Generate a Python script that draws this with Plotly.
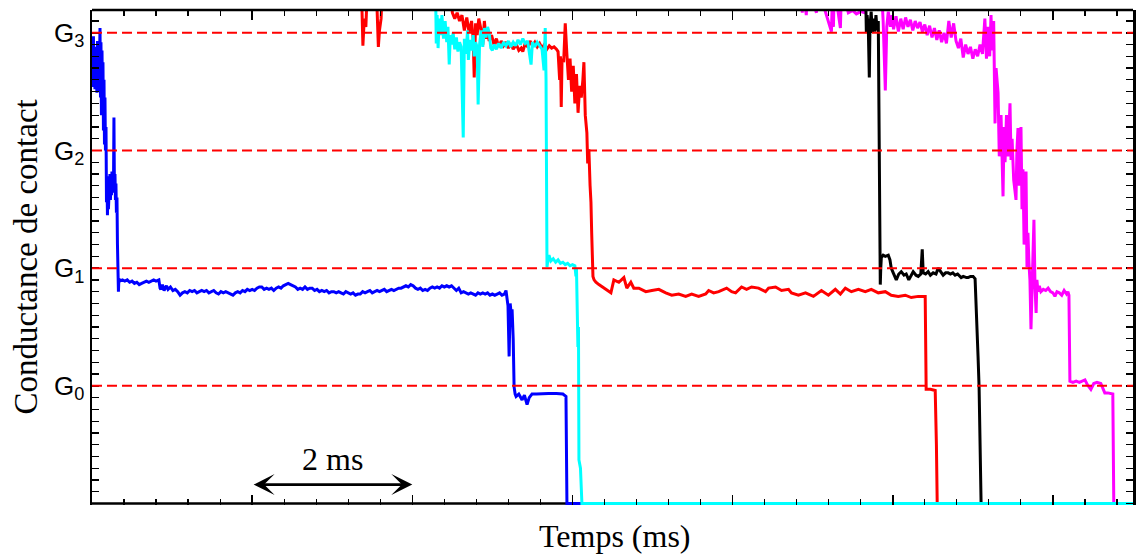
import plotly.graph_objects as go

# ---------------- data (time in ms, conductance in units where G0=1, G1=2, G2=3, G3=4) ----------------
BLUE_T = [0.000, 0.006, 0.012, 0.018, 0.024, 0.030, 0.037, 0.043, 0.049, 0.055, 0.062, 0.068, 0.075, 0.081,
          0.087, 0.094, 0.100, 0.106, 0.112, 0.118, 0.125, 0.131, 0.137, 0.143, 0.150, 0.156, 0.162, 0.168,
          0.175, 0.181, 0.187, 0.193, 0.199, 0.205, 0.212, 0.218, 0.224, 0.230, 0.237, 0.243, 0.249, 0.255,
          0.262, 0.268, 0.274, 0.280, 0.287, 0.293, 0.299, 0.305, 0.312, 0.318, 0.324, 0.330, 0.336,
          0.349, 0.38, 0.41, 0.44, 0.47, 0.50, 0.53, 0.56, 0.59, 0.62, 0.65, 0.68, 0.71, 0.74, 0.77, 0.80,
          0.835, 0.85, 0.86, 0.88, 0.90, 0.93, 0.95, 0.98, 1.01, 1.04, 1.07, 1.10, 1.13, 1.16, 1.19, 1.22,
          1.25, 1.28, 1.31, 1.34, 1.37, 1.40, 1.43, 1.46, 1.49, 1.52, 1.55, 1.58, 1.61, 1.64, 1.67, 1.70,
          1.73, 1.76, 1.79, 1.82, 1.85, 1.88, 1.91, 1.94, 1.97, 2.00, 2.03, 2.06, 2.09, 2.12, 2.15, 2.18,
          2.21, 2.24, 2.27, 2.30, 2.33, 2.36, 2.39, 2.42, 2.45, 2.48, 2.51, 2.54, 2.57, 2.60, 2.63, 2.66,
          2.69, 2.72, 2.75, 2.78, 2.81, 2.84, 2.87, 2.90, 2.93, 2.96, 2.99, 3.02, 3.05, 3.08, 3.11, 3.14,
          3.17, 3.20, 3.23, 3.26, 3.29, 3.32, 3.35, 3.38, 3.41, 3.44, 3.47, 3.50, 3.53, 3.56, 3.59, 3.62,
          3.65, 3.68, 3.71, 3.74, 3.77, 3.80, 3.83, 3.86, 3.89, 3.92, 3.95, 3.98, 4.01, 4.04, 4.07, 4.10,
          4.13, 4.16, 4.19, 4.22, 4.25, 4.28, 4.31, 4.34, 4.37, 4.40, 4.43, 4.46, 4.49, 4.52, 4.55, 4.58,
          4.61, 4.64, 4.67, 4.70, 4.73, 4.76, 4.79, 4.82, 4.85, 4.88, 4.91, 4.94, 4.97, 5.00, 5.03, 5.06,
          5.09, 5.12, 5.15, 5.17, 5.18, 5.195, 5.209, 5.222, 5.234, 5.246, 5.260, 5.271, 5.284, 5.296,
          5.33, 5.371, 5.40, 5.433, 5.46, 5.495, 5.55, 5.62, 5.70, 5.80, 5.88, 5.919, 5.931, 13.1]
BLUE_G = [3.95, 3.54, 3.60, 3.97, 3.55, 3.62, 3.52, 3.88, 3.52, 3.58, 3.49, 3.93, 3.55, 3.70,
          3.50, 3.98, 4.04, 3.45, 3.92, 3.30, 3.85, 3.40, 3.75, 3.17, 3.60, 3.05, 3.45, 3.00,
          3.20, 2.56, 2.78, 2.45, 2.75, 2.50, 2.70, 2.62, 2.80, 2.58, 2.76, 2.62, 2.82, 2.64,
          2.78, 2.66, 3.28, 2.68, 2.80, 2.58, 2.72, 2.47, 2.60, 2.20, 1.93, 1.80, 1.91,
          1.89, 1.90, 1.89, 1.90, 1.88, 1.89, 1.87, 1.88, 1.86, 1.87, 1.88, 1.89, 1.88, 1.89, 1.90, 1.89,
          1.90, 1.83, 1.82, 1.86, 1.81, 1.85, 1.82, 1.84, 1.81, 1.82, 1.80, 1.77, 1.79, 1.80, 1.79, 1.81,
          1.80, 1.81, 1.79, 1.80, 1.81, 1.80, 1.81, 1.79, 1.80, 1.81, 1.79, 1.78, 1.80, 1.79, 1.80, 1.79,
          1.78, 1.77, 1.79, 1.80, 1.79, 1.81, 1.80, 1.82, 1.81, 1.82, 1.81, 1.83, 1.84, 1.84, 1.82, 1.83,
          1.82, 1.83, 1.81, 1.83, 1.84, 1.83, 1.85, 1.86, 1.87, 1.86, 1.85, 1.84, 1.82, 1.83, 1.82, 1.84,
          1.82, 1.83, 1.83, 1.81, 1.82, 1.80, 1.81, 1.80, 1.81, 1.79, 1.80, 1.80, 1.79, 1.80, 1.79, 1.78,
          1.80, 1.79, 1.78, 1.79, 1.77, 1.78, 1.78, 1.80, 1.79, 1.80, 1.81, 1.79, 1.80, 1.81, 1.80, 1.81,
          1.82, 1.80, 1.81, 1.82, 1.81, 1.82, 1.83, 1.83, 1.84, 1.85, 1.84, 1.86, 1.85, 1.83, 1.82, 1.83,
          1.81, 1.82, 1.81, 1.83, 1.84, 1.83, 1.84, 1.83, 1.85, 1.84, 1.85, 1.84, 1.85, 1.83, 1.81, 1.83,
          1.79, 1.80, 1.79, 1.78, 1.79, 1.78, 1.77, 1.79, 1.78, 1.79, 1.78, 1.79, 1.77, 1.78, 1.77, 1.78,
          1.79, 1.77, 1.78, 1.81, 1.75, 1.68, 1.25, 1.70, 1.62, 1.65, 1.40, 0.99, 0.93, 0.91,
          0.93, 0.88, 0.92, 0.84, 0.90, 0.93, 0.93, 0.935, 0.935, 0.935, 0.93, 0.91, 0.0, 0.0]

RED_T = [3.364, 3.383, 3.40, 3.42, 3.44, 3.55, 3.576, 3.59, 3.61, 3.626, 4.48, 4.50, 4.53, 4.56, 4.59,
         4.62, 4.65, 4.68, 4.71, 4.74, 4.76, 4.773, 4.79, 4.81, 4.83, 4.86, 4.88, 4.90, 4.92, 4.94, 4.96,
         4.99, 5.02, 5.05, 5.08, 5.11, 5.14, 5.17, 5.20, 5.23, 5.26, 5.30, 5.33, 5.36, 5.38, 5.41, 5.44,
         5.47, 5.50, 5.53, 5.56, 5.59, 5.62, 5.65, 5.68, 5.71, 5.74, 5.77, 5.80, 5.82, 5.84, 5.85, 5.86,
         5.87, 5.89, 5.91, 5.93, 5.95, 5.97, 5.99, 6.01, 6.03, 6.05, 6.07, 6.09, 6.11, 6.13, 6.143, 6.16,
         6.18, 6.19, 6.205, 6.22, 6.231, 6.24, 6.256, 6.27, 6.293, 6.330, 6.393, 6.455, 6.480, 6.517,
         6.579, 6.642, 6.679, 6.729, 6.766, 6.829, 6.916, 6.991, 7.078, 7.165, 7.240, 7.327, 7.414, 7.489,
         7.576, 7.664, 7.701, 7.763, 7.826, 7.925, 7.988, 8.037, 8.112, 8.174, 8.237, 8.324, 8.411, 8.449,
         8.536, 8.611, 8.698, 8.735, 8.822, 8.910, 9.009, 9.109, 9.196, 9.283, 9.346, 9.408, 9.483, 9.570,
         9.657, 9.732, 9.819, 9.907, 9.981, 10.069, 10.156, 10.231, 10.318, 10.405, 10.417, 10.47, 10.53,
         10.545, 10.555, 13.1]
RED_G = [4.40, 3.89, 4.12, 4.05, 4.40, 4.40, 3.88, 4.02, 4.12, 4.40, 4.40, 4.17, 4.12, 4.17, 4.10,
         4.15, 4.02, 4.13, 4.00, 4.10, 3.95, 3.62, 4.08, 3.98, 4.12, 4.02, 3.90, 4.10, 3.95, 4.01, 3.93,
         3.98, 3.90, 3.95, 3.88, 3.93, 3.89, 3.92, 3.87, 3.91, 3.86, 3.90, 3.85, 3.87, 3.84, 3.91, 3.88,
         3.93, 3.89, 3.92, 3.88, 3.91, 3.87, 3.90, 3.86, 3.89, 3.87, 3.88, 3.86, 3.84, 3.60, 3.80, 3.37,
         3.78, 3.75, 4.08, 3.82, 3.60, 3.78, 3.50, 3.72, 3.40, 3.65, 3.32, 3.55, 3.45, 3.60, 3.75, 3.30,
         3.15, 2.89, 3.01, 2.70, 2.56, 2.30, 1.93, 1.90, 1.88, 1.86, 1.83, 1.80, 1.79, 1.90,
         1.88, 1.92, 1.83, 1.88, 1.83, 1.83, 1.80, 1.81, 1.82, 1.79, 1.77, 1.78, 1.76, 1.78,
         1.76, 1.78, 1.81, 1.79, 1.80, 1.83, 1.80, 1.79, 1.84, 1.82, 1.84, 1.83, 1.80, 1.83,
         1.84, 1.81, 1.82, 1.79, 1.77, 1.79, 1.76, 1.81, 1.77, 1.82, 1.78, 1.83, 1.80, 1.82,
         1.80, 1.82, 1.79, 1.80, 1.77, 1.76, 1.77, 1.75, 1.76, 1.76, 0.97, 0.97, 0.96,
         0.50, 0.0, 0.0]

MAGENTA_T = [8.860, 8.87, 8.88, 8.92, 8.935, 9.047, 9.06, 9.234, 9.25, 9.259, 9.27, 9.346, 9.36, 9.445,
             9.50, 9.545, 9.60, 9.657, 9.67, 9.857, 9.88, 9.907, 9.925, 9.944, 9.97, 9.99, 10.01, 10.04,
             10.07, 10.10, 10.13, 10.16, 10.19, 10.22, 10.25, 10.28, 10.31, 10.34, 10.37, 10.40, 10.43,
             10.46, 10.49, 10.52, 10.55, 10.58, 10.61, 10.64, 10.67, 10.70, 10.73, 10.76, 10.79, 10.82,
             10.85, 10.88, 10.91, 10.94, 10.97, 11.00, 11.03, 11.06, 11.09, 11.12, 11.15, 11.17, 11.19,
             11.21, 11.227, 11.24, 11.26, 11.277, 11.29, 11.315, 11.33, 11.352, 11.377, 11.39, 11.402,
             11.42, 11.439, 11.464, 11.477, 11.49, 11.51, 11.539, 11.55, 11.564, 11.58, 11.601, 11.614,
             11.626, 11.64, 11.664, 11.676, 11.688, 11.70, 11.713, 11.726, 11.74, 11.763, 11.776, 11.79,
             11.80, 11.813, 11.83, 11.85, 11.88, 11.91, 11.94, 11.97, 12.00, 12.025, 12.05, 12.08, 12.11,
             12.14, 12.17, 12.187, 12.200, 12.212, 12.25, 12.29, 12.33, 12.37, 12.40, 12.43, 12.474, 12.51,
             12.55, 12.598, 12.62, 12.648, 12.685, 12.748, 12.760, 13.1]
MAGENTA_G = [4.40, 4.17, 4.40, 4.15, 4.40, 4.17, 4.40, 4.01, 4.40, 4.05, 4.40, 4.04, 4.40, 4.17,
             4.19, 4.16, 4.18, 4.17, 4.40, 4.40, 4.10, 3.51, 4.05, 4.18, 4.05, 4.15, 4.03, 4.14,
             4.01, 4.12, 4.03, 4.13, 4.05, 4.11, 4.02, 4.10, 4.04, 4.09, 4.01, 4.07, 3.98,
             4.06, 3.96, 4.04, 3.94, 4.02, 3.92, 4.00, 3.91, 4.10, 3.96, 4.08, 3.93, 3.87,
             3.95, 3.79, 3.90, 3.82, 3.88, 3.78, 3.86, 3.80, 3.90, 3.82, 4.12, 3.78, 4.05,
             3.80, 4.15, 3.85, 4.10, 3.23, 3.70, 3.49, 2.95, 3.30, 2.61, 3.20, 2.90,
             3.30, 2.95, 3.40, 2.92, 3.10, 2.75, 2.58, 3.00, 3.19, 2.70, 3.20, 2.50,
             2.84, 2.20, 2.82, 2.01, 2.30, 2.05, 1.90, 1.48, 1.95, 2.41, 1.85, 1.62,
             1.90, 1.80, 1.85, 1.80, 1.82, 1.81, 1.83, 1.80, 1.79, 1.76, 1.80, 1.79, 1.77,
             1.81, 1.78, 1.80, 1.77, 1.04, 1.03, 1.04, 1.03, 1.04, 1.05, 1.01, 0.97, 1.02,
             1.03, 1.02, 0.98, 0.94, 0.94, 0.93, 0.0, 0.0]

BLACK_T = [9.660, 9.670, 9.680, 9.695, 9.707, 9.715, 9.73, 9.745, 9.76, 9.775, 9.79, 9.805, 9.819, 9.832,
           9.844, 9.850, 9.857, 9.88, 9.907, 9.944, 9.965, 9.981, 10.006, 10.025, 10.044, 10.075, 10.106,
           10.14, 10.168, 10.20, 10.218, 10.255, 10.29, 10.318, 10.35, 10.368, 10.380, 10.41, 10.442, 10.47,
           10.505, 10.54, 10.567, 10.60, 10.629, 10.66, 10.692, 10.72, 10.75, 10.779, 10.81, 10.854, 10.88,
           10.92, 10.941, 10.97, 11.003, 11.028, 11.040, 11.065, 11.078, 11.090, 11.103, 13.1]
BLACK_G = [4.40, 4.00, 4.15, 4.02, 3.62, 4.05, 4.18, 4.00, 4.12, 4.01, 4.15, 4.02, 4.10, 3.00,
           1.86, 2.00, 2.09, 2.11, 2.10, 2.11, 2.07, 2.00, 1.96, 1.92, 1.90, 1.95, 1.97,
           1.94, 1.95, 1.90, 1.92, 1.97, 1.94, 1.93, 1.95, 2.16, 1.96, 1.95, 1.97, 1.94,
           1.96, 1.95, 2.00, 1.97, 1.94, 1.96, 1.96, 1.95, 1.96, 1.94, 1.95, 1.92, 1.93,
           1.92, 1.92, 1.93, 1.93, 1.91, 1.73, 1.25, 0.99, 0.31, 0.0, 0.0]

CYAN_T = [4.290, 4.299, 4.310, 4.322, 4.336, 4.35, 4.37, 4.39, 4.41, 4.43, 4.445, 4.461, 4.475, 4.49,
          4.51, 4.53, 4.55, 4.57, 4.59, 4.61, 4.636, 4.65, 4.67, 4.69, 4.70, 4.72, 4.74, 4.76, 4.773,
          4.79, 4.81, 4.822, 4.84, 4.86, 4.88, 4.90, 4.92, 4.94, 4.96, 4.98, 5.00, 5.02, 5.05, 5.08,
          5.11, 5.14, 5.17, 5.20, 5.23, 5.26, 5.29, 5.32, 5.35, 5.38, 5.41, 5.44, 5.483, 5.50, 5.53,
          5.56, 5.59, 5.62, 5.645, 5.660, 5.670, 5.682, 5.695, 5.707, 5.73, 5.76, 5.79, 5.82, 5.85,
          5.88, 5.91, 5.94, 5.97, 6.00, 6.03, 6.044, 6.05, 6.056, 6.068, 6.075, 6.081, 6.100, 6.118, 13.1]
CYAN_G = [4.40, 3.91, 4.15, 3.87, 4.12, 3.98, 4.15, 3.95, 4.10, 3.92, 4.05, 3.73, 3.98, 3.90,
          4.00, 3.86, 3.96, 3.84, 3.92, 3.88, 3.11, 3.95, 3.82, 4.02, 3.77, 3.94, 3.85, 3.98, 3.80,
          3.92, 3.88, 3.39, 3.90, 4.02, 3.88, 4.04, 3.96, 4.05, 4.00, 3.87, 3.85, 3.90, 3.86, 3.91,
          3.87, 3.92, 3.89, 3.93, 3.88, 3.92, 3.89, 3.94, 3.90, 3.95, 3.91, 3.93, 3.73, 3.92, 3.88,
          3.92, 3.89, 3.86, 3.68, 4.04, 3.60, 2.01, 2.08, 2.11, 2.06, 2.08, 2.05, 2.07, 2.04,
          2.05, 2.03, 2.04, 2.02, 2.03, 2.02, 1.93, 2.00, 1.62, 1.33, 1.50, 0.37, 0.30, 0.0, 0.0]

SERIES = [("blue", BLUE_T, BLUE_G, "#0000ff"),
          ("red", RED_T, RED_G, "#ff0000"),
          ("magenta", MAGENTA_T, MAGENTA_G, "#ff00ff"),
          ("black", BLACK_T, BLACK_G, "#000000"),
          ("cyan", CYAN_T, CYAN_G, "#00ffff")]

G_LEVELS = [1, 2, 3, 4]
G_LABELS = ["G<sub>0</sub>", "G<sub>1</sub>", "G<sub>2</sub>", "G<sub>3</sub>"]

SCALE_START_MS = 2.0
SCALE_END_MS = 4.0
SCALE_LABEL = "2 ms"

X_RANGE = [0.0, 13.0]
Y_RANGE = [-0.0127, 4.1935]

# ---------------- figure ----------------
fig = go.Figure()
for name, t, g, color in SERIES:
    fig.add_trace(go.Scatter(x=t, y=g, mode="lines", name=name,
                             line=dict(color=color, width=3),
                             showlegend=False, hoverinfo="skip"))

shapes = []
# bottom frame line (drawn under the traces, like the reference)
shapes.append(dict(type="line", xref="paper", x0=0, x1=1, yref="y", y0=0, y1=0,
                   line=dict(color="black", width=2.5), layer="below"))
# top frame line
shapes.append(dict(type="line", xref="paper", x0=0, x1=1, yref="paper", y0=1, y1=1,
                   line=dict(color="black", width=2.5), layer="above"))
# dashed red conductance levels
for lvl in G_LEVELS:
    shapes.append(dict(type="line", xref="paper", x0=0, x1=1, yref="y", y0=lvl, y1=lvl,
                       line=dict(color="#ff0000", width=2, dash="10px,5px"), layer="above"))

serif = "Liberation Serif, Times New Roman, serif"
sans = "Liberation Sans, Arial, sans-serif"

annotations = [
    dict(text="Conductance de contact", textangle=-90, xref="paper", x=0, xshift=-67,
         yref="paper", y=0.5, showarrow=False, xanchor="center", yanchor="middle",
         font=dict(family=serif, size=33, color="black")),
    dict(text="Temps (ms)", xref="paper", x=0.5, xshift=2, yref="paper", y=0, yshift=-31,
         showarrow=False, xanchor="center", yanchor="middle",
         font=dict(family=serif, size=32, color="black")),
    dict(text=SCALE_LABEL, xref="x", x=(SCALE_START_MS + SCALE_END_MS) / 2, yref="y", y=0.38,
         showarrow=False, xanchor="center", yanchor="middle",
         font=dict(family=serif, size=32, color="black")),
    dict(text="", xref="x", yref="y", x=SCALE_END_MS, y=0.161,
         axref="x", ayref="y", ax=SCALE_START_MS, ay=0.161,
         showarrow=True, arrowhead=3, startarrowhead=3, arrowside="end+start",
         arrowsize=1.25, startarrowsize=1.25, arrowwidth=2.8, arrowcolor="black",
         standoff=0, startstandoff=0),
]

fig.update_layout(
    width=1137, height=555,
    margin=dict(l=92, r=1, t=10, b=50),
    paper_bgcolor="white", plot_bgcolor="white",
    shapes=shapes, annotations=annotations,
    xaxis=dict(range=X_RANGE, showgrid=False, zeroline=False, showline=False,
               ticks="inside", tickmode="linear", tick0=0, dtick=2, ticklen=10, tickwidth=1.5,
               tickcolor="black", showticklabels=False, mirror="allticks",
               minor=dict(ticks="inside", tick0=0, dtick=0.4, ticklen=6, tickwidth=1.2,
                          tickcolor="black", showgrid=False)),
    yaxis=dict(range=Y_RANGE, showgrid=False, zeroline=False, showline=True, linewidth=2.5,
               linecolor="black", mirror="allticks", ticks="inside", tickmode="array",
               tickvals=G_LEVELS, ticktext=G_LABELS, ticklen=7, tickwidth=1.5, tickcolor="black",
               tickfont=dict(family=sans, size=26, color="black"),
               minor=dict(ticks="inside", tick0=0, dtick=0.1, ticklen=7, tickwidth=1.2,
                          tickcolor="black", showgrid=False)),
)

fig.write_html("out.html", config={"displayModeBar": False, "staticPlot": True})

# remove the browser's default page margin so the figure sits at the window's top-left corner
with open("out.html", "r", encoding="utf-8") as fh:
    html = fh.read()
html = html.replace("<head>", "<head><style>html,body{margin:0;padding:0;overflow:hidden;}</style>", 1)
with open("out.html", "w", encoding="utf-8") as fh:
    fh.write(html)
